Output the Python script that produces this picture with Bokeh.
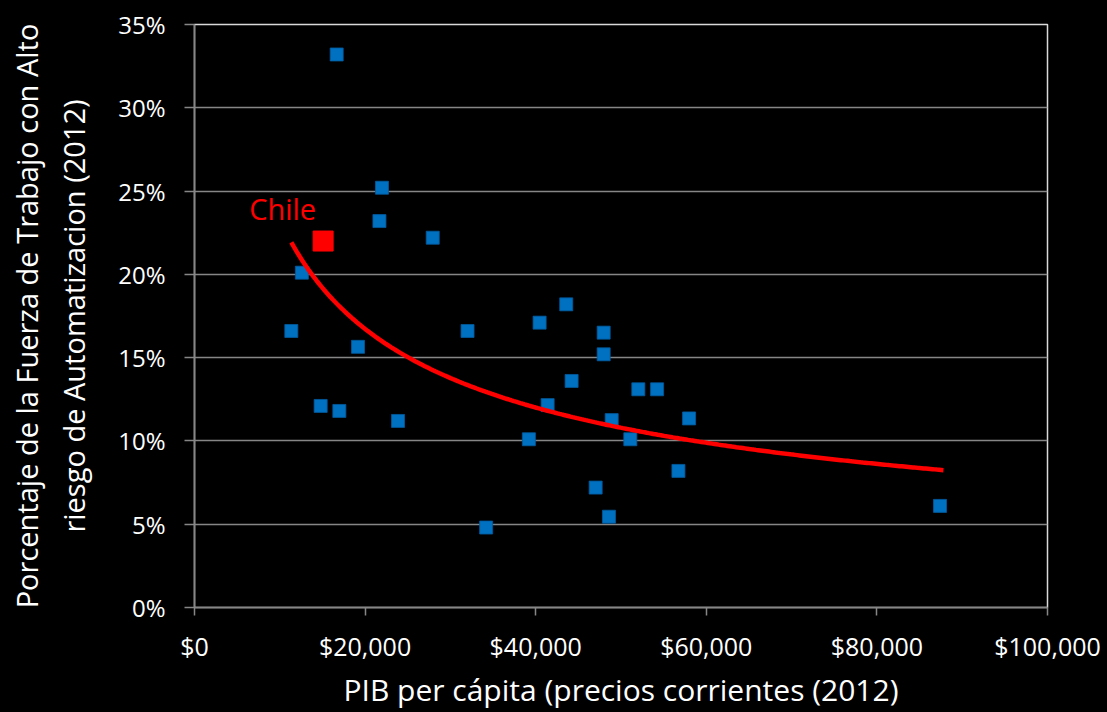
import numpy as np
from bokeh.plotting import figure
from bokeh.models import (Range1d, FixedTicker, NumeralTickFormatter,
                          PrintfTickFormatter, Label)
from bokeh.embed import file_html
from bokeh.resources import INLINE

# ---------------- data ----------------
gdp = [16670, 21980, 21680, 27930, 12590, 11350, 19170, 14790, 16980, 23860,
       32010, 34190, 39200, 40460, 41400, 43580, 44210, 47970, 47970, 47030,
       48590, 48910, 51090, 52030, 54230, 56730, 57980, 87400]
risk = [33.2, 25.2, 23.2, 22.2, 20.1, 16.6, 15.65, 12.1, 11.8, 11.2,
        16.6, 4.8, 10.1, 17.1, 12.15, 18.2, 13.6, 16.5, 15.2, 7.2,
        5.45, 11.25, 10.1, 13.1, 13.1, 8.2, 11.35, 6.1]
chile_gdp = [15080]
chile_risk = [22.0]
chile_name = "Chile"

# power trend line y = a * x^b
trend_a = 1902.0
trend_b = -0.478
trend_x_end = 87800

x_ticks = [0, 20000, 40000, 60000, 80000, 100000]
y_ticks = [0, 5, 10, 15, 20, 25, 30, 35]
x_title = "PIB per cápita (precios corrientes (2012)"
y_title = "Porcentaje de la Fuerza de Trabajo con Alto\nriesgo de Automatizacion (2012)"

FONT = "Open Sans"
GRID = "#868686"

p = figure(width=1107, height=712,
           x_range=Range1d(x_ticks[0], x_ticks[-1]),
           y_range=Range1d(y_ticks[0], y_ticks[-1]),
           output_backend="svg", toolbar_location=None,
           background_fill_color="black", border_fill_color="black",
           min_border_left=194, min_border_right=60,
           min_border_top=24, min_border_bottom=102)

p.outline_line_color = "#d9d9d9"
p.outline_line_width = 1.5

p.xgrid.visible = False
p.ygrid.ticker = FixedTicker(ticks=[t for t in y_ticks if t < y_ticks[-1]])
p.ygrid.grid_line_color = GRID
p.ygrid.grid_line_width = 1.5

p.xaxis.ticker = FixedTicker(ticks=x_ticks)
p.yaxis.ticker = FixedTicker(ticks=y_ticks)
p.xaxis.formatter = NumeralTickFormatter(format="$0,0")
p.yaxis.formatter = PrintfTickFormatter(format="%d%%")

for ax in (p.xaxis, p.yaxis):
    ax.axis_line_color = GRID
    ax.axis_line_width = 1.5
    ax.major_tick_line_color = GRID
    ax.major_tick_line_width = 1.5
    ax.major_tick_in = 0
    ax.minor_tick_line_color = None
    ax.major_label_text_color = "white"
    ax.major_label_text_font = FONT
    ax.major_label_text_font_size = "24px"
    ax.axis_label_text_color = "white"
    ax.axis_label_text_font = FONT
    ax.axis_label_text_font_style = "normal"

p.xaxis.major_label_text_font_size = "25px"
p.xaxis.axis_label_text_font_size = "30px"
p.yaxis.axis_label_text_font_size = "29px"
p.yaxis.major_tick_out = 10
p.yaxis.major_label_standoff = 19
p.xaxis.major_tick_out = 8
p.xaxis.major_label_standoff = 13

p.xaxis.axis_label = x_title
p.xaxis.axis_label_standoff = 3
p.yaxis.axis_label = y_title
p.yaxis.axis_label_standoff = 22

# blue points
p.scatter(gdp, risk, marker="square", size=13,
          fill_color="#0070C0", line_color="#005A9E", line_width=0.8)

# power trend line
tx = np.linspace(min(gdp), trend_x_end, 300)
ty = trend_a * tx ** trend_b
p.line(tx, ty, line_color="#FF0000", line_width=4.5)

# Chile
p.scatter(chile_gdp, chile_risk, marker="square", size=20,
          fill_color="#FF0000", line_color="#FF0000")
p.add_layout(Label(x=chile_gdp[0], y=chile_risk[0], x_offset=-74, y_offset=33,
                   text=chile_name, text_color="#FF0000", text_font=FONT,
                   text_font_size="29px", text_align="left",
                   text_baseline="alphabetic"))

html = file_html(p, INLINE, title="Chart")
html = html.replace("</head>", "<style>html,body{background:#000;}</style></head>", 1)
open("out.html", "w").write(html)
